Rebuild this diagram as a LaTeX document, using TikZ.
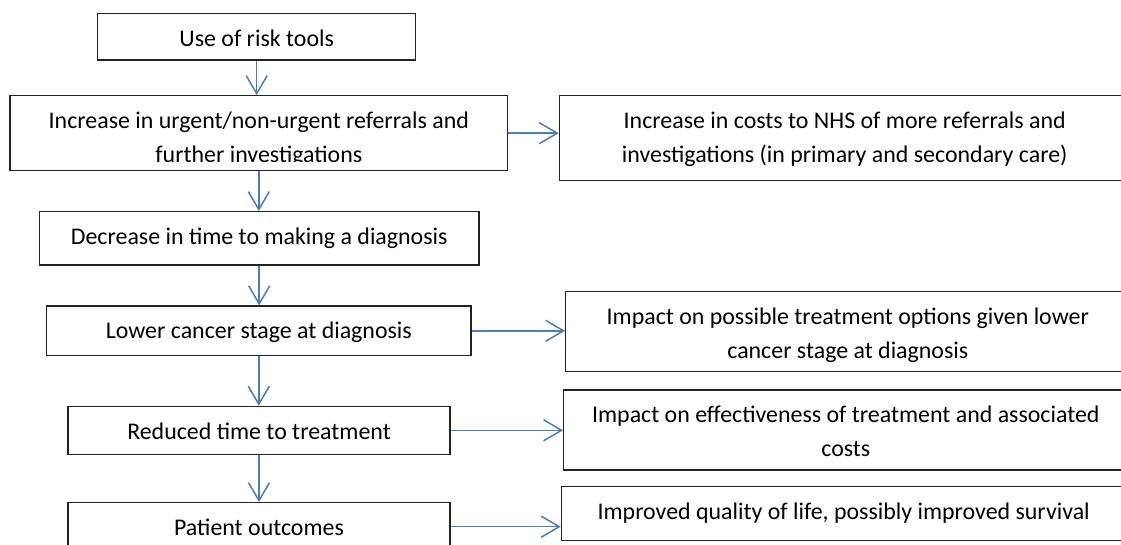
\documentclass[tikz,border=0pt]{standalone}
\usepackage{fontspec}
\setmainfont{Carlito}
\usepackage{xcolor}
\usepackage{tikz}
\usetikzlibrary{arrows.meta}
\definecolor{flowBlue}{RGB}{74,126,187}
\definecolor{inkframe}{RGB}{35,35,35}

\begin{document}
\begin{tikzpicture}[x=1pt,y=-1pt,
    boxline/.style={draw=inkframe,line width=1.2pt,inner sep=0pt},
    boxtext/.style={font=\fontsize{23.9}{33.6}\selectfont,align=flush center,anchor=base,inner sep=0pt},
    flow/.style={draw=flowBlue,line width=1.5pt,-{Straight Barb[length=18pt,width=21pt]}}]
  \useasboundingbox (0,0) rectangle (1121,545);
  % box helper: frame + text hung from the top, cut off near the bottom edge
  \newcommand{\flowbox}[6]{%
    \node[boxline,minimum width=#4pt,minimum height=#5pt] (#1) at (#2,#3) {};
    \begin{scope}
      \clip (#1.north west) rectangle ([yshift=10pt]#1.south east);
      \node[boxtext,text width=#4pt] (#1-txt) at ([yshift=-33.5pt]#1.north) {#6};
    \end{scope}}
  % Main chain
  \flowbox{use}{256.7}{36.7}{318}{46.7}{Use of risk tools}
  \flowbox{refer}{258.8}{133.2}{497.7}{75}{Increase in urgent/non-urgent referrals and\\further investigations}
  \flowbox{diagnose}{259.2}{238.3}{439.7}{53.3}{Decrease in time to making a diagnosis}
  \flowbox{stage}{258.8}{330.8}{424.3}{49.7}{Lower cancer stage at diagnosis}
  \flowbox{treat}{259}{430.3}{382}{48}{Reduced time to treatment}
  \flowbox{outcome}{259}{526.7}{382}{48}{Patient outcomes}
  % Side effects
  \flowbox{cost}{844.7}{138.2}{570.7}{85}{Increase in costs to NHS of more referrals and\\investigations (in primary and secondary care)}
  \flowbox{options}{847.8}{331.7}{564.3}{80}{Impact on possible treatment options given lower\\cancer stage at diagnosis}
  \flowbox{effect}{845.8}{430}{564.3}{80}{Impact on effectiveness of treatment and associated\\costs}
  \flowbox{life}{843.7}{513.5}{564.7}{53.6}{Improved quality of life, possibly improved survival}
  % Arrows down
  \draw[flow] (use.south) -- (use.south |- refer.north);
  \draw[flow] (refer.south) -- (refer.south |- diagnose.north);
  \draw[flow] (diagnose.south) -- (diagnose.south |- stage.north);
  \draw[flow] (stage.south) -- (stage.south |- treat.north);
  \draw[flow] (treat.south) -- (treat.south |- outcome.north);
  % Arrows across
  \draw[flow] (refer.east) -- (refer.east -| cost.west);
  \draw[flow] (stage.east) -- (stage.east -| options.west);
  \draw[flow] (treat.east) -- (treat.east -| effect.west);
  \draw[flow] (outcome.east) -- (outcome.east -| life.west);
\end{tikzpicture}
\end{document}
